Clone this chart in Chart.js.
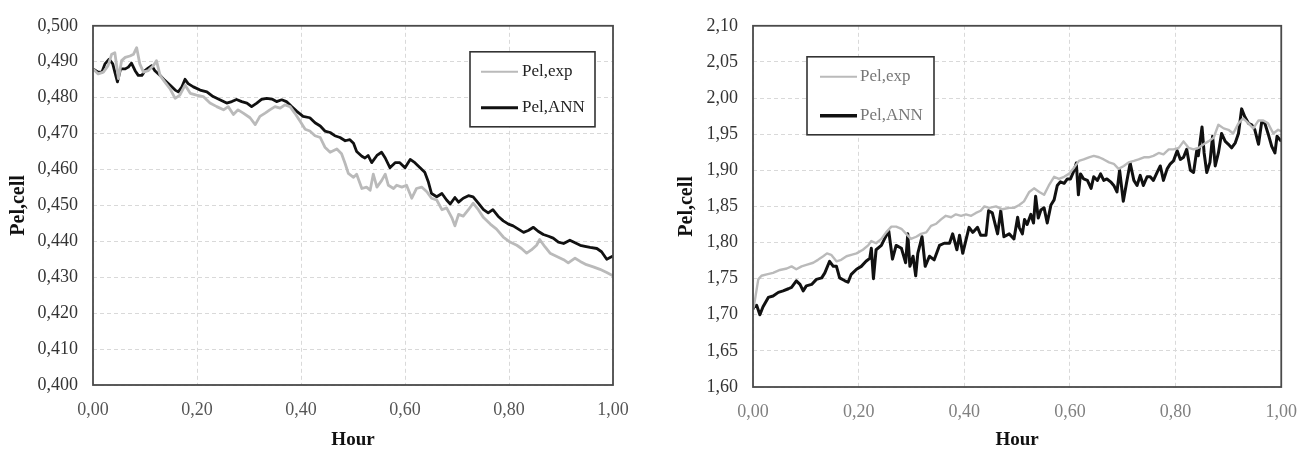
<!DOCTYPE html>
<html>
<head>
<meta charset="utf-8">
<script src="https://cdn.jsdelivr.net/npm/chart.js@4.4.0/dist/chart.umd.min.js"></script>
<style>
  html, body { margin: 0; padding: 0; background: #fff; }
  .wrap { position: absolute; top: 0; height: 454px; }
  #leftWrap { left: 0; width: 655px; }
  #rightWrap { left: 655px; width: 656px; }
</style>
</head>
<body>
<div class="wrap" id="leftWrap"><canvas id="leftChart"></canvas></div>
<div class="wrap" id="rightWrap"><canvas id="rightChart"></canvas></div>
<script>
// Series labels
const seriesNames = ['Pel,exp', 'Pel,ANN'];

// Left panel - experimental (grey)
const leftExpHour = [0.000,0.010,0.020,0.029,0.036,0.042,0.049,0.055,0.062,0.071,0.078,0.084,0.090,0.097,0.106,0.116,0.122,0.129,0.138,0.148,0.158,0.167,0.177,0.187,0.199,0.212,0.225,0.238,0.251,0.260,0.270,0.279,0.289,0.302,0.312,0.321,0.331,0.340,0.350,0.360,0.369,0.379,0.388,0.398,0.408,0.417,0.427,0.437,0.446,0.456,0.469,0.478,0.485,0.491,0.501,0.507,0.517,0.526,0.533,0.539,0.546,0.555,0.562,0.568,0.578,0.584,0.594,0.603,0.613,0.622,0.632,0.642,0.651,0.661,0.671,0.680,0.690,0.696,0.703,0.712,0.722,0.731,0.741,0.751,0.764,0.776,0.789,0.802,0.815,0.824,0.834,0.843,0.853,0.859,0.869,0.879,0.892,0.905,0.914,0.927,0.937,0.949,0.962,0.975,0.988,1.000];
const leftExpPel = [0.4880,0.4866,0.4871,0.4889,0.4921,0.4925,0.4853,0.4903,0.4912,0.4916,0.4921,0.4939,0.4894,0.4871,0.4875,0.4889,0.4903,0.4862,0.4844,0.4825,0.4798,0.4807,0.4835,0.4812,0.4807,0.4803,0.4785,0.4775,0.4766,0.4775,0.4753,0.4766,0.4757,0.4744,0.4725,0.4748,0.4757,0.4766,0.4775,0.4771,0.4780,0.4775,0.4757,0.4735,0.4712,0.4707,0.4694,0.4689,0.4662,0.4648,0.4657,0.4644,0.4616,0.4589,0.4578,0.4587,0.4547,0.4551,0.4542,0.4587,0.4551,0.4569,0.4587,0.4556,0.4547,0.4556,0.4551,0.4556,0.4520,0.4547,0.4551,0.4538,0.4520,0.4515,0.4488,0.4493,0.4466,0.4443,0.4475,0.4470,0.4488,0.4506,0.4488,0.4466,0.4448,0.4434,0.4412,0.4398,0.4389,0.4380,0.4367,0.4376,0.4389,0.4405,0.4385,0.4367,0.4358,0.4349,0.4340,0.4353,0.4344,0.4335,0.4329,0.4322,0.4313,0.4304];

// Left panel - ANN (black)
const leftAnnHour = [0.000,0.010,0.017,0.023,0.031,0.038,0.042,0.047,0.053,0.062,0.068,0.074,0.081,0.087,0.094,0.100,0.106,0.113,0.119,0.129,0.138,0.148,0.158,0.164,0.171,0.177,0.183,0.193,0.206,0.219,0.231,0.244,0.257,0.267,0.276,0.286,0.296,0.305,0.315,0.324,0.334,0.344,0.353,0.363,0.372,0.382,0.392,0.404,0.417,0.427,0.437,0.446,0.456,0.465,0.475,0.485,0.494,0.501,0.507,0.517,0.523,0.529,0.536,0.546,0.555,0.562,0.571,0.581,0.590,0.600,0.610,0.619,0.629,0.638,0.645,0.651,0.661,0.671,0.680,0.687,0.696,0.703,0.712,0.722,0.731,0.741,0.751,0.760,0.769,0.779,0.789,0.799,0.808,0.818,0.828,0.837,0.847,0.856,0.866,0.876,0.885,0.895,0.905,0.917,0.927,0.937,0.946,0.956,0.969,0.978,0.988,1.000];
const leftAnnPel = [0.4880,0.4871,0.4871,0.4894,0.4907,0.4894,0.4871,0.4844,0.4880,0.4880,0.4885,0.4896,0.4875,0.4862,0.4862,0.4875,0.4882,0.4889,0.4875,0.4862,0.4848,0.4835,0.4821,0.4816,0.4830,0.4851,0.4839,0.4830,0.4821,0.4816,0.4803,0.4794,0.4785,0.4789,0.4795,0.4789,0.4785,0.4775,0.4785,0.4795,0.4798,0.4796,0.4789,0.4794,0.4789,0.4775,0.4762,0.4748,0.4744,0.4730,0.4721,0.4707,0.4703,0.4694,0.4689,0.4680,0.4683,0.4673,0.4650,0.4637,0.4632,0.4639,0.4619,0.4639,0.4648,0.4632,0.4605,0.4619,0.4619,0.4605,0.4628,0.4619,0.4605,0.4592,0.4565,0.4533,0.4524,0.4533,0.4515,0.4504,0.4522,0.4509,0.4520,0.4527,0.4524,0.4506,0.4488,0.4479,0.4488,0.4470,0.4457,0.4448,0.4443,0.4434,0.4425,0.4430,0.4439,0.4428,0.4419,0.4414,0.4409,0.4398,0.4394,0.4403,0.4396,0.4389,0.4386,0.4383,0.4380,0.4371,0.4350,0.4359];

// Right panel - experimental (grey)
const rightExpHour = [0.000,0.002,0.010,0.016,0.026,0.038,0.051,0.064,0.073,0.082,0.092,0.101,0.114,0.123,0.133,0.140,0.148,0.158,0.167,0.177,0.186,0.196,0.208,0.218,0.224,0.233,0.243,0.252,0.262,0.271,0.281,0.290,0.299,0.309,0.318,0.328,0.337,0.347,0.356,0.365,0.375,0.384,0.394,0.403,0.413,0.422,0.431,0.438,0.447,0.460,0.472,0.485,0.494,0.504,0.513,0.523,0.532,0.542,0.551,0.560,0.570,0.579,0.589,0.598,0.608,0.617,0.626,0.636,0.645,0.655,0.664,0.674,0.683,0.692,0.702,0.711,0.721,0.730,0.740,0.749,0.758,0.768,0.777,0.787,0.796,0.806,0.815,0.825,0.834,0.843,0.853,0.862,0.872,0.881,0.891,0.900,0.909,0.919,0.928,0.938,0.947,0.957,0.966,0.975,0.985,0.994,1.000];
const rightExpPel = [1.708,1.713,1.749,1.754,1.756,1.758,1.762,1.764,1.767,1.763,1.767,1.769,1.772,1.776,1.781,1.785,1.783,1.774,1.776,1.781,1.783,1.785,1.790,1.796,1.802,1.799,1.805,1.814,1.822,1.822,1.819,1.812,1.805,1.808,1.812,1.814,1.823,1.826,1.832,1.837,1.835,1.839,1.837,1.839,1.837,1.841,1.844,1.850,1.848,1.850,1.846,1.848,1.848,1.852,1.857,1.870,1.875,1.870,1.866,1.879,1.891,1.888,1.891,1.895,1.904,1.913,1.915,1.918,1.920,1.918,1.915,1.911,1.909,1.902,1.906,1.911,1.913,1.915,1.918,1.918,1.920,1.924,1.922,1.929,1.929,1.931,1.940,1.931,1.929,1.931,1.936,1.940,1.945,1.963,1.958,1.956,1.951,1.965,1.972,1.965,1.958,1.969,1.969,1.965,1.951,1.956,1.954];

// Right panel - ANN (black)
const rightAnnHour = [0.000,0.002,0.007,0.013,0.019,0.029,0.038,0.048,0.057,0.067,0.073,0.082,0.089,0.095,0.101,0.111,0.120,0.130,0.136,0.145,0.152,0.158,0.164,0.174,0.180,0.186,0.196,0.205,0.214,0.221,0.224,0.228,0.233,0.243,0.249,0.257,0.264,0.271,0.281,0.289,0.293,0.297,0.303,0.308,0.312,0.320,0.326,0.334,0.343,0.353,0.362,0.372,0.378,0.386,0.391,0.397,0.403,0.409,0.416,0.425,0.431,0.441,0.446,0.453,0.463,0.469,0.475,0.485,0.494,0.501,0.504,0.510,0.514,0.519,0.526,0.531,0.535,0.540,0.545,0.551,0.557,0.564,0.570,0.576,0.582,0.589,0.595,0.601,0.608,0.612,0.616,0.620,0.626,0.633,0.640,0.645,0.652,0.658,0.664,0.670,0.677,0.683,0.689,0.694,0.701,0.707,0.714,0.721,0.727,0.733,0.739,0.746,0.752,0.758,0.765,0.771,0.777,0.784,0.790,0.796,0.803,0.809,0.815,0.821,0.828,0.834,0.840,0.843,0.850,0.854,0.859,0.865,0.870,0.875,0.881,0.887,0.894,0.900,0.906,0.913,0.919,0.925,0.931,0.938,0.944,0.950,0.957,0.963,0.969,0.975,0.982,0.988,0.992,1.000];
const rightAnnPel = [1.708,1.711,1.713,1.700,1.711,1.724,1.726,1.731,1.733,1.736,1.738,1.747,1.742,1.733,1.740,1.742,1.749,1.751,1.758,1.774,1.767,1.767,1.751,1.747,1.745,1.756,1.763,1.767,1.774,1.778,1.792,1.750,1.790,1.796,1.805,1.816,1.777,1.796,1.792,1.772,1.812,1.767,1.781,1.754,1.785,1.808,1.767,1.781,1.776,1.796,1.799,1.799,1.812,1.790,1.810,1.785,1.803,1.821,1.814,1.821,1.810,1.810,1.844,1.841,1.812,1.844,1.808,1.812,1.805,1.835,1.821,1.812,1.832,1.825,1.839,1.827,1.864,1.834,1.845,1.848,1.827,1.852,1.859,1.879,1.884,1.882,1.888,1.888,1.900,1.910,1.866,1.895,1.888,1.886,1.875,1.891,1.886,1.895,1.886,1.888,1.884,1.879,1.870,1.900,1.857,1.882,1.910,1.886,1.879,1.893,1.879,1.891,1.891,1.886,1.897,1.906,1.886,1.902,1.909,1.913,1.927,1.915,1.918,1.929,1.900,1.897,1.927,1.920,1.960,1.924,1.897,1.911,1.947,1.906,1.924,1.951,1.940,1.936,1.931,1.938,1.951,1.985,1.974,1.965,1.963,1.956,1.936,1.967,1.965,1.951,1.933,1.924,1.947,1.940];

// Axis ranges / ticks
const hourTicks = [0, 0.2, 0.4, 0.6, 0.8, 1.0];
const leftPelRange = [0.400, 0.500, 0.010];
const rightPelRange = [1.60, 2.10, 0.05];

Chart.defaults.font.family = '"Liberation Serif", "DejaVu Serif", serif';

function toPoints(xs, ys) {
  return xs.map((x, i) => ({ x: x, y: ys[i] }));
}

function commaFmt(v, digits) {
  return Number(v).toFixed(digits).replace('.', ',');
}

// frame around the plot area plus the boxed legend inside it
const framePlugin = {
  id: 'framePlugin',
  afterDraw(chart, args, opts) {
    const ctx = chart.ctx;
    const a = chart.chartArea;
    ctx.save();
    ctx.strokeStyle = '#4a4a4a';
    ctx.lineWidth = 1.8;
    ctx.strokeRect(a.left, a.top, a.right - a.left, a.bottom - a.top);

    const bx = a.left + opts.dx, by = a.top + opts.dy;
    ctx.fillStyle = '#fff';
    ctx.fillRect(bx, by, opts.w, opts.h);
    ctx.strokeStyle = '#333';
    ctx.lineWidth = 1.6;
    ctx.strokeRect(bx, by, opts.w, opts.h);

    ctx.font = '17px "Liberation Serif", serif';
    ctx.textBaseline = 'middle';
    chart.data.datasets.forEach((ds, i) => {
      const y = by + opts.rows[i];
      ctx.strokeStyle = ds.borderColor;
      ctx.lineWidth = opts.sampleWidths[i];
      ctx.beginPath();
      ctx.moveTo(bx + opts.lineStart, y);
      ctx.lineTo(bx + opts.lineEnd, y);
      ctx.stroke();
      ctx.fillStyle = opts.textColor;
      ctx.fillText(ds.label, bx + opts.textX, y);
    });
    ctx.restore();
  }
};

function makeChart(canvasId, cfg) {
  const ctx = document.getElementById(canvasId).getContext('2d');
  return new Chart(ctx, {
    type: 'line',
    data: {
      datasets: [{
        label: seriesNames[0],
        data: toPoints(cfg.expHour, cfg.expPel),
        borderColor: '#bababa',
        borderWidth: cfg.expWidth,
        borderJoinStyle: 'round',
        pointRadius: 0,
        tension: 0
      }, {
        label: seriesNames[1],
        data: toPoints(cfg.annHour, cfg.annPel),
        borderColor: '#111',
        borderWidth: cfg.annWidth,
        borderJoinStyle: 'round',
        pointRadius: 0,
        tension: 0
      }]
    },
    options: {
      responsive: true,
      maintainAspectRatio: false,
      animation: false,
      layout: { padding: { left: 0, top: 17, right: cfg.padRight, bottom: 0 } },
      plugins: {
        legend: { display: false },
        tooltip: { enabled: false },
        framePlugin: cfg.legend
      },
      scales: {
        x: {
          type: 'linear',
          min: 0,
          max: 1,
          afterBuildTicks: (s) => { s.ticks = hourTicks.map(v => ({ value: v })); },
          afterFit: (s) => { s.height = cfg.xHeight; },
          grid: { color: '#d9d9d9', drawTicks: false },
          border: { display: false, dash: [4, 3] },
          ticks: {
            padding: 14,
            color: cfg.xTickColor,
            font: { size: 18 },
            maxRotation: 0,
            callback: (v) => commaFmt(v, 2)
          },
          title: {
            display: true,
            text: 'Hour',
            color: '#111',
            font: { size: 19, weight: 'bold' },
            padding: { top: 0, bottom: 3 }
          }
        },
        y: {
          min: cfg.range[0],
          max: cfg.range[1],
          afterFit: (s) => { s.width = cfg.yWidth; },
          grid: { color: '#d9d9d9', drawTicks: false },
          border: { display: false, dash: [4, 3] },
          ticks: {
            stepSize: cfg.range[2],
            padding: 15,
            color: '#333',
            font: { size: 18 },
            callback: (v) => commaFmt(v, cfg.digits)
          },
          title: {
            display: true,
            text: 'Pel,cell',
            color: '#111',
            font: { size: 20, weight: 'bold' },
            padding: { top: cfg.yTitlePad, bottom: 0 }
          }
        }
      }
    },
    plugins: [framePlugin]
  });
}

makeChart('leftChart', {
  expHour: leftExpHour, expPel: leftExpPel,
  annHour: leftAnnHour, annPel: leftAnnPel,
  expWidth: 2.8, annWidth: 2.8,
  range: leftPelRange, digits: 3,
  padRight: 42, xHeight: 69, yWidth: 93, yTitlePad: 7,
  xTickColor: '#555',
  legend: { dx: 377, dy: 26, w: 125, h: 75, rows: [20, 56], lineStart: 11, lineEnd: 48, textX: 52,
            sampleWidths: [2, 3], textColor: '#222' }
});

makeChart('rightChart', {
  expHour: rightExpHour, expPel: rightExpPel,
  annHour: rightAnnHour, annPel: rightAnnPel,
  expWidth: 2.4, annWidth: 3,
  range: rightPelRange, digits: 2,
  padRight: 28, xHeight: 67, yWidth: 98, yTitlePad: 20,
  xTickColor: '#808080',
  legend: { dx: 54, dy: 31, w: 127, h: 78, rows: [20, 59], lineStart: 13, lineEnd: 50, textX: 53,
            sampleWidths: [2, 3.5], textColor: '#777' }
});
</script>
</body>
</html>
